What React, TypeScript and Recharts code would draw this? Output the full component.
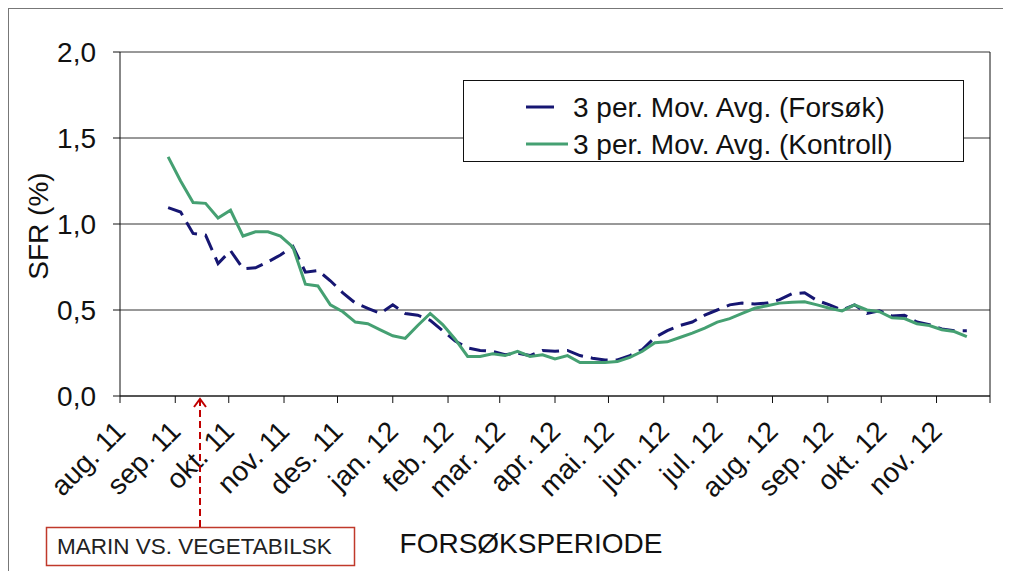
import React from 'react';
import { LineChart, Line, XAxis, YAxis, CartesianGrid, ReferenceLine, Legend } from 'recharts';

// Day offsets from 1 Aug 2011 for each weekly point
const weekDays = [
  27, 34, 41, 48, 55, 62, 69, 76, 83, 90,
  97, 104, 111, 118, 125, 132, 139, 146, 153, 160,
  167, 174, 181, 188, 195, 202, 209, 216, 223, 230,
  237, 244, 251, 258, 265, 272, 279, 286, 293, 300,
  307, 314, 321, 328, 335, 342, 349, 356, 363, 370,
  377, 384, 391, 398, 405, 412, 419, 426, 433, 440,
  447, 454, 461, 468, 475,
];

// 3 per. Mov. Avg. (Forsøk)
const forsok = [
  1.095, 1.07, 0.945, 0.935, 0.77, 0.845, 0.74, 0.745, 0.78, 0.82,
  0.87, 0.72, 0.73, 0.67, 0.6, 0.54, 0.51, 0.48, 0.53, 0.48,
  0.47, 0.44, 0.38, 0.32, 0.28, 0.265, 0.26, 0.24, 0.25, 0.235,
  0.265, 0.26, 0.265, 0.235, 0.22, 0.21, 0.21, 0.235, 0.27, 0.34,
  0.38, 0.41, 0.43, 0.47, 0.5, 0.53, 0.54, 0.535, 0.54, 0.56,
  0.595, 0.6, 0.555, 0.53, 0.5, 0.53, 0.48, 0.495, 0.465, 0.47,
  0.43, 0.415, 0.39, 0.38, 0.38,
];

// 3 per. Mov. Avg. (Kontroll)
const kontroll = [
  1.39, 1.25, 1.125, 1.12, 1.035, 1.08, 0.93, 0.955, 0.955, 0.93,
  0.865, 0.65, 0.64, 0.53, 0.49, 0.43, 0.42, 0.385, 0.35, 0.335,
  0.41, 0.48, 0.415, 0.33, 0.23, 0.23, 0.245, 0.235, 0.26, 0.23,
  0.24, 0.215, 0.235, 0.195, 0.195, 0.195, 0.2, 0.225, 0.26, 0.31,
  0.315, 0.34, 0.365, 0.395, 0.43, 0.45, 0.48, 0.51, 0.525, 0.54,
  0.545, 0.548, 0.53, 0.51, 0.495, 0.53, 0.5, 0.49, 0.455, 0.45,
  0.42, 0.41, 0.385, 0.375, 0.345,
];

const monthDays = [0, 31, 61, 92, 122, 153, 184, 213, 244, 274, 305, 335, 366, 397, 427, 458, 488];
const monthLabels = [
  'aug. 11', 'sep. 11', 'okt. 11', 'nov. 11', 'des. 11', 'jan. 12', 'feb. 12', 'mar. 12',
  'apr. 12', 'mai. 12', 'jun. 12', 'jul. 12', 'aug. 12', 'sep. 12', 'okt. 12', 'nov. 12', '',
];
const yTicks = [0, 0.5, 1, 1.5, 2];
const seriesNames = ['3 per. Mov. Avg. (Forsøk)', '3 per. Mov. Avg. (Kontroll)'];
const yAxisTitle = 'SFR (%)';
const xAxisTitle = 'FORSØKSPERIODE';
const annotationText = 'MARIN VS. VEGETABILSK';

const FONT = '"Liberation Sans", Arial, sans-serif';
const NAVY = '#161672';
const GREEN = '#45a072';

const data = weekDays.map((d, i) => ({ d, forsok: forsok[i], kontroll: kontroll[i] }));

const XTick = (props: any) => {
  const { x, y, payload } = props;
  const idx = monthDays.indexOf(payload.value);
  const label = idx >= 0 ? monthLabels[idx] : '';
  if (!label) return <g />;
  return (
    <g transform={`translate(${x + 7},${y + 30})`}>
      <text transform="rotate(-45)" textAnchor="end" fontSize={28} fill="#111" fontFamily={FONT}>
        {label}
      </text>
    </g>
  );
};

const LegendBox = () => (
  <div
    style={{
      width: 501,
      height: 82,
      border: '1px solid #111',
      background: '#fff',
      boxSizing: 'border-box',
      position: 'relative',
      fontFamily: FONT,
    }}
  >
    <svg width={501} height={82} style={{ position: 'absolute', left: 0, top: 0 }}>
      <line x1={62} x2={104} y1={26} y2={26} stroke={NAVY} strokeWidth={3} strokeDasharray="28 14" />
      <text x={109} y={26} dy="0.35em" fontSize={28} fill="#111" fontFamily={FONT}>{seriesNames[0]}</text>
      <line x1={62} x2={104} y1={63} y2={63} stroke={GREEN} strokeWidth={3} />
      <text x={109} y={63} dy="0.35em" fontSize={28} fill="#111" fontFamily={FONT}>{seriesNames[1]}</text>
    </svg>
  </div>
);

export default function App() {
  return (
    <div style={{ position: 'relative', width: 1003, height: 563, background: '#fff', fontFamily: FONT }}>
      <div
        style={{
          position: 'absolute', left: 0, top: 0, width: 1003, height: 570,
          borderLeft: '1px solid #777', borderTop: '1px solid #777', pointerEvents: 'none',
        }}
      />
      <div style={{ position: 'absolute', left: 0, top: 0 }}>
        <LineChart width={1003} height={563} data={data} margin={{ top: 44, right: 21, left: 0, bottom: 0 }}>
          <CartesianGrid vertical={false} stroke="#333" strokeWidth={1} />
          <XAxis
            type="number"
            dataKey="d"
            domain={[0, 488]}
            ticks={monthDays}
            interval={0}
            height={175}
            tickSize={7}
            tickMargin={0}
            tick={<XTick />}
            stroke="#111"
            allowDataOverflow
          />
          <YAxis
            type="number"
            domain={[0, 2]}
            ticks={yTicks}
            width={112}
            tickSize={7}
            tickMargin={17}
            stroke="#111"
            tick={{ fontSize: 28, fill: '#111', fontFamily: FONT }}
            tickFormatter={(v: number) => v.toFixed(1).replace('.', ',')}
          />
          <ReferenceLine x={488} stroke="#111" />
          <Line
            type="linear"
            dataKey="forsok"
            name={seriesNames[0]}
            stroke={NAVY}
            strokeWidth={3}
            strokeDasharray="17 8"
            dot={false}
            isAnimationActive={false}
          />
          <Line
            type="linear"
            dataKey="kontroll"
            name={seriesNames[1]}
            stroke={GREEN}
            strokeWidth={3}
            dot={false}
            isAnimationActive={false}
          />
          <Legend
            layout="horizontal"
            verticalAlign="middle"
            align="center"
            content={() => <LegendBox />}
            wrapperStyle={{ left: 455, top: 72, width: 501, height: 82 }}
          />
        </LineChart>
      </div>
      <svg width={1003} height={563} style={{ position: 'absolute', left: 0, top: 0, pointerEvents: 'none' }}>
        <text
          transform="translate(30,218) rotate(-90)"
          textAnchor="middle"
          dy="0.35em"
          fontSize={28}
          fill="#111"
          fontFamily={FONT}
        >
          {yAxisTitle}
        </text>
        <text x={523} y={545} textAnchor="middle" fontSize={28} fill="#111" fontFamily={FONT}>
          {xAxisTitle}
        </text>
        <rect x={38.5} y={519.5} width={308} height={38} fill="#fff" stroke="#c0392b" strokeWidth={1.5} />
        <text x={49} y={546} fontSize={22.5} fill="#222" fontFamily={FONT}>
          {annotationText}
        </text>
        <line x1={192} x2={192} y1={519} y2={392} stroke="#c00000" strokeWidth={2} strokeDasharray="7 4" />
        <polyline points="186,399 192,391 198,399" fill="none" stroke="#c00000" strokeWidth={2} />
      </svg>
    </div>
  );
}
